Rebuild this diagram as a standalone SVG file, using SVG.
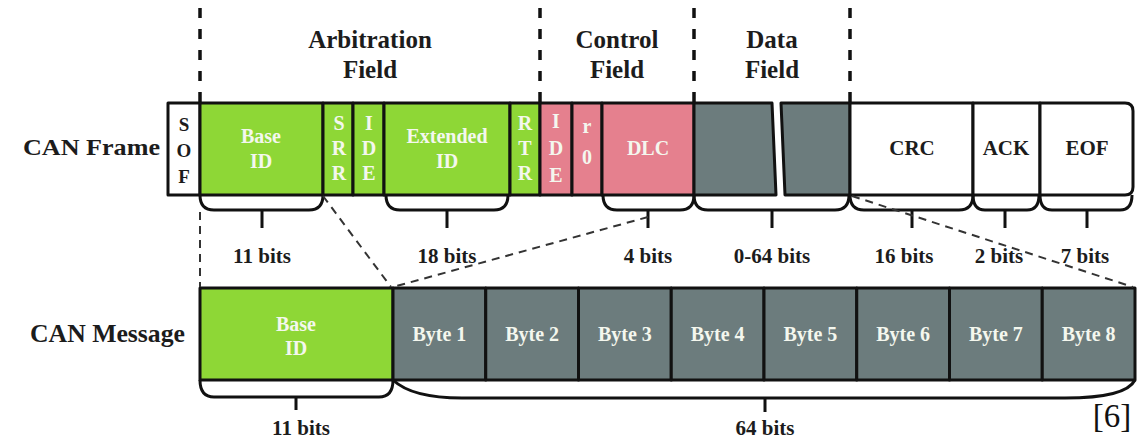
<svg xmlns="http://www.w3.org/2000/svg" width="1147" height="440" viewBox="0 0 1147 440">
<style>
.cell{stroke:#111;stroke-width:3;stroke-linejoin:round}
.g{fill:#8ed736}.p{fill:#e5808e}.d{fill:#6c7c7d}.w{fill:#fff}
.lb{font-family:'Liberation Serif','Times New Roman',serif;font-weight:700;fill:#1c1c1c;text-anchor:middle}
.wt{font-family:'Liberation Serif','Times New Roman',serif;font-weight:700;fill:#f4f7ee;text-anchor:middle;font-size:20px}
.bt{font-size:21px}
.hd{font-size:25px}
.brace{fill:none;stroke:#111;stroke-width:3}
.vd{stroke:#111;stroke-width:3.5;stroke-dasharray:10 11}
.dl{fill:none;stroke:#333;stroke-width:2;stroke-dasharray:8 6}
</style>
<rect width="1147" height="440" fill="#fff"/>

<g id="headers">
<text class="lb hd" x="370" y="48">Arbitration</text>
<text class="lb hd" x="370" y="78">Field</text>
<text class="lb hd" x="617" y="48">Control</text>
<text class="lb hd" x="617" y="78">Field</text>
<text class="lb hd" x="772" y="48">Data</text>
<text class="lb hd" x="772" y="78">Field</text>
</g>

<g id="row-labels">
<text class="lb" x="23" y="155" font-size="24" textLength="137" lengthAdjust="spacingAndGlyphs" style="text-anchor:start">CAN Frame</text>
<text class="lb" x="30" y="342" font-size="25" textLength="155" lengthAdjust="spacingAndGlyphs" style="text-anchor:start">CAN Message</text>
</g>

<g id="field-dividers">
<line class="vd" x1="200" y1="8" x2="200" y2="103"/>
<line class="vd" x1="540" y1="8" x2="540" y2="103"/>
<line class="vd" x1="694" y1="8" x2="694" y2="103"/>
<line class="vd" x1="850" y1="8" x2="850" y2="103"/>
</g>

<g id="sof"><rect class="cell w" x="168" y="103" width="32" height="92"/>
<text class="lb" font-size="19" x="184" y="131">S</text><text class="lb" font-size="19" x="184" y="157">O</text><text class="lb" font-size="19" x="184" y="183">F</text></g>
<g id="base-id"><rect class="cell g" x="200" y="103" width="123" height="92"/>
<text class="wt" x="261" y="143">Base</text><text class="wt" x="261" y="168">ID</text></g>
<g id="srr"><rect class="cell g" x="323" y="103" width="30" height="92"/>
<text class="wt" x="339" y="130">S</text><text class="wt" x="339" y="155">R</text><text class="wt" x="339" y="180">R</text></g>
<g id="ide"><rect class="cell g" x="353" y="103" width="31" height="92"/>
<text class="wt" x="369" y="130">I</text><text class="wt" x="369" y="155">D</text><text class="wt" x="369" y="180">E</text></g>
<g id="extended-id"><rect class="cell g" x="384" y="103" width="126" height="92"/>
<text class="wt" x="447" y="143">Extended</text><text class="wt" x="447" y="168">ID</text></g>
<g id="rtr"><rect class="cell g" x="510" y="103" width="30" height="92"/>
<text class="wt" x="525" y="130">R</text><text class="wt" x="525" y="155">T</text><text class="wt" x="525" y="180">R</text></g>
<g id="ide2"><rect class="cell p" x="540" y="103" width="32" height="92"/>
<text class="wt" x="556" y="128">I</text><text class="wt" x="556" y="155">D</text><text class="wt" x="556" y="182">E</text></g>
<g id="r0"><rect class="cell p" x="572" y="103" width="30" height="92"/>
<text class="wt" x="587" y="133">r</text><text class="wt" x="587" y="164">0</text></g>
<g id="dlc"><rect class="cell p" x="602" y="103" width="92" height="92"/>
<text class="wt" x="648" y="155">DLC</text></g>
<g id="data1"><polygon class="cell d" points="694,103 772,103 776,195 694,195"/></g>
<g id="data2"><polygon class="cell d" points="781,103 850,103 850,195 785,195"/></g>
<g id="crc"><rect class="cell w" x="850" y="103" width="123" height="92"/>
<text class="lb" font-size="21" x="912" y="155">CRC</text></g>
<g id="ack"><rect class="cell w" x="973" y="103" width="67" height="92"/>
<text class="lb" font-size="21" x="1006" y="155">ACK</text></g>
<g id="eof"><path class="cell w" d="M1040,103 H1125 Q1133,103 1133,111 V187 Q1133,195 1125,195 H1040 Z"/>
<text class="lb" font-size="21" x="1087" y="155">EOF</text></g>

<g id="msg-base-id"><rect class="cell g" x="200" y="288" width="193" height="92"/>
<text class="wt" x="296" y="331">Base</text><text class="wt" x="296" y="355">ID</text></g>
<g id="byte1"><rect class="cell d" x="393" y="288" width="92.75" height="92"/><text class="wt" x="439.4" y="341">Byte 1</text></g>
<g id="byte2"><rect class="cell d" x="485.75" y="288" width="92.75" height="92"/><text class="wt" x="532.1" y="341">Byte 2</text></g>
<g id="byte3"><rect class="cell d" x="578.5" y="288" width="92.75" height="92"/><text class="wt" x="624.9" y="341">Byte 3</text></g>
<g id="byte4"><rect class="cell d" x="671.25" y="288" width="92.75" height="92"/><text class="wt" x="717.6" y="341">Byte 4</text></g>
<g id="byte5"><rect class="cell d" x="764" y="288" width="92.75" height="92"/><text class="wt" x="810.4" y="341">Byte 5</text></g>
<g id="byte6"><rect class="cell d" x="856.75" y="288" width="92.75" height="92"/><text class="wt" x="903.1" y="341">Byte 6</text></g>
<g id="byte7"><rect class="cell d" x="949.5" y="288" width="92.75" height="92"/><text class="wt" x="995.9" y="341">Byte 7</text></g>
<g id="byte8"><path class="cell d" d="M1042.25,288 H1135 V380 H1042.25 Z"/><text class="wt" x="1088.6" y="341">Byte 8</text></g>

<g id="connectors">
<path class="brace" d="M200,195 Q200,210 214,210 H309 Q323,210 323,195 M262,210 V228"/>
<path class="brace" d="M386,195 Q386,210 400,210 H494 Q508,210 508,195 M447,210 V228"/>
<path class="brace" d="M603,195 Q603,210 617,210 H680 Q694,210 694,195 M648,210 V228"/>
<path class="brace" d="M694,195 Q694,210 708,210 H835 Q849,210 849,195 M772,210 V228"/>
<path class="brace" d="M850,195 Q850,210 864,210 H959 Q973,210 973,195 M912,210 V228"/>
<path class="brace" d="M973,195 Q973,210 985,210 H1027 Q1039,210 1039,195 M1005,210 V228"/>
<path class="brace" d="M1040,195 Q1040,210 1052,210 H1120 Q1132,210 1132,195 M1087,210 V228"/>
<path class="brace" d="M200,380 Q200,397 214,397 H379 Q393,397 393,380 M296,397 V410"/>
<path class="brace" d="M393,380 Q412,398 462,398 H1065 Q1126,398 1135,380 M765,398 V412"/>
<line class="dl" x1="200" y1="212" x2="200" y2="287"/>
<line class="dl" x1="323" y1="196" x2="391" y2="287"/>
<line class="dl" x1="648" y1="217" x2="393" y2="287"/>
<line class="dl" x1="852" y1="196" x2="1133" y2="287"/>
</g>

<g id="bit-labels">
<text class="lb bt" x="262" y="263">11 bits</text>
<text class="lb bt" x="447" y="263">18 bits</text>
<text class="lb bt" x="648" y="263">4 bits</text>
<text class="lb bt" x="772" y="263">0-64 bits</text>
<text class="lb bt" x="904" y="263">16 bits</text>
<text class="lb bt" x="999" y="263">2 bits</text>
<text class="lb bt" x="1085" y="263">7 bits</text>
<text class="lb bt" x="301" y="435">11 bits</text>
<text class="lb bt" x="765" y="435">64 bits</text>
</g>

<text x="1112" y="427" font-family="'Liberation Serif','Times New Roman',serif" font-size="33" fill="#111" text-anchor="middle">[6]</text>
</svg>
